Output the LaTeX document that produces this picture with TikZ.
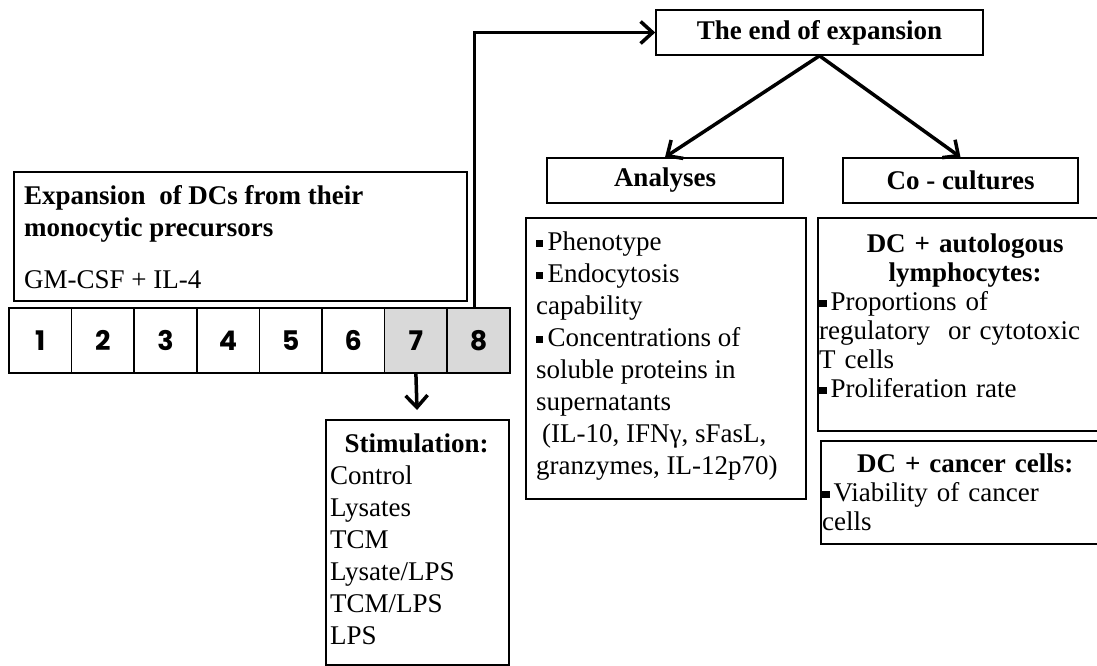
\documentclass[tikz,border=0pt]{standalone}
\usepackage{fontspec}
\setmainfont{Liberation Serif}
\newfontfamily\dayfont{Poppins}
\usepackage{tikz}
\usetikzlibrary{arrows.meta}
\usepackage{xcolor}
\definecolor{daygray}{HTML}{D9D9D9}
\newcommand{\sqb}{\rule[0.15em]{0.27em}{0.27em}\hspace{0.15em}}

\begin{document}
\begin{tikzpicture}[x=1pt,y=-1pt]
\tikzset{>={Straight Barb[length=12pt,width=22pt]}}
\tikzstyle{box}=[draw,line width=1.6pt,rectangle,inner sep=0pt,anchor=north west]
\tikzstyle{title}=[draw,line width=1.6pt,rectangle,inner sep=0pt,font=\fontsize{27}{30}\selectfont\bfseries]
\tikzstyle{txt}=[anchor=north west,inner sep=0pt,align=left]
\tikzstyle{day}=[draw,line width=1.6pt,minimum width=62.6pt,minimum height=65pt,inner sep=0pt,font=\fontsize{27}{27}\dayfont\bfseries]
\tikzstyle{link}=[->,line width=3.5pt]

\useasboundingbox (0,0) rectangle (1097,666);
\clip (0,0) rectangle (1097,666);

\node[title,minimum width=327pt,minimum height=45pt](end) at (819.5,32.5){The end of expansion};
\node[title,minimum width=236pt,minimum height=45pt](ana) at (665,180.5){Analyses};
\node[title,minimum width=235pt,minimum height=45pt](cocult) at (960.5,180.5){Co - cultures};

\node[box,minimum width=453pt,minimum height=129pt](expbox) at (13,171){};
\node[txt,font=\fontsize{27}{32}\selectfont](exptxt) at (24,185){\textbf{Expansion\ \ of DCs from their}\\\textbf{monocytic precursors}\\[20pt]GM-CSF + IL-4};

\node[day](day1) at (40.3,340.5){1};
\node[day](day2) at (102.9,340.5){2};
\node[day](day3) at (165.5,340.5){3};
\node[day](day4) at (228.1,340.5){4};
\node[day](day5) at (290.7,340.5){5};
\node[day](day6) at (353.3,340.5){6};
\node[day,fill=daygray](day7) at (415.9,340.5){7};
\node[day,fill=daygray](day8) at (478.5,340.5){8};

\node[box,minimum width=183pt,minimum height=245pt](stimbox) at (325,419){};
\node[txt,text width=173pt,font=\fontsize{27}{32}\selectfont](stimtxt) at (330,434){{\centering\bfseries Stimulation:\par}Control\\Lysates\\TCM\\Lysate/LPS\\TCM/LPS\\LPS};

\node[box,minimum width=280pt,minimum height=281pt](anabox) at (525,217){};
\node[txt,font=\fontsize{27}{32}\selectfont](anatxt) at (536,232){\sqb Phenotype\\\sqb Endocytosis\\capability\\\sqb Concentrations of\\soluble proteins in\\supernatants\\\hspace*{6pt}(IL-10, IFNγ, sFasL,\\granzymes, IL-12p70)};

\node[box,minimum width=300pt,minimum height=213pt](lymbox) at (817,217){};
\node[txt,text width=292pt,font=\fontsize{27}{29}\selectfont](lymtxt) at (819,234){{\centering\bfseries DC + autologous\\lymphocytes:\par}\sqb Proportions of\\regulatory\ \ or cytotoxic\\T cells\\\sqb Proliferation rate};

\node[box,minimum width=300pt,minimum height=103pt](canbox) at (820,440){};
\node[txt,text width=286pt,font=\fontsize{27}{29}\selectfont](cantxt) at (822,454){{\centering\bfseries DC + cancer cells:\par}\sqb Viability of cancer\\cells};

\draw[link] ([xshift=-4pt]day8.north) |- (end.west);
\draw[link,shorten >=9pt] (day7.south) -- (stimbox.north);
\draw[link] (end.south) -- (ana.north);
\draw[link] (end.south) -- (cocult.north);
\end{tikzpicture}
\end{document}
